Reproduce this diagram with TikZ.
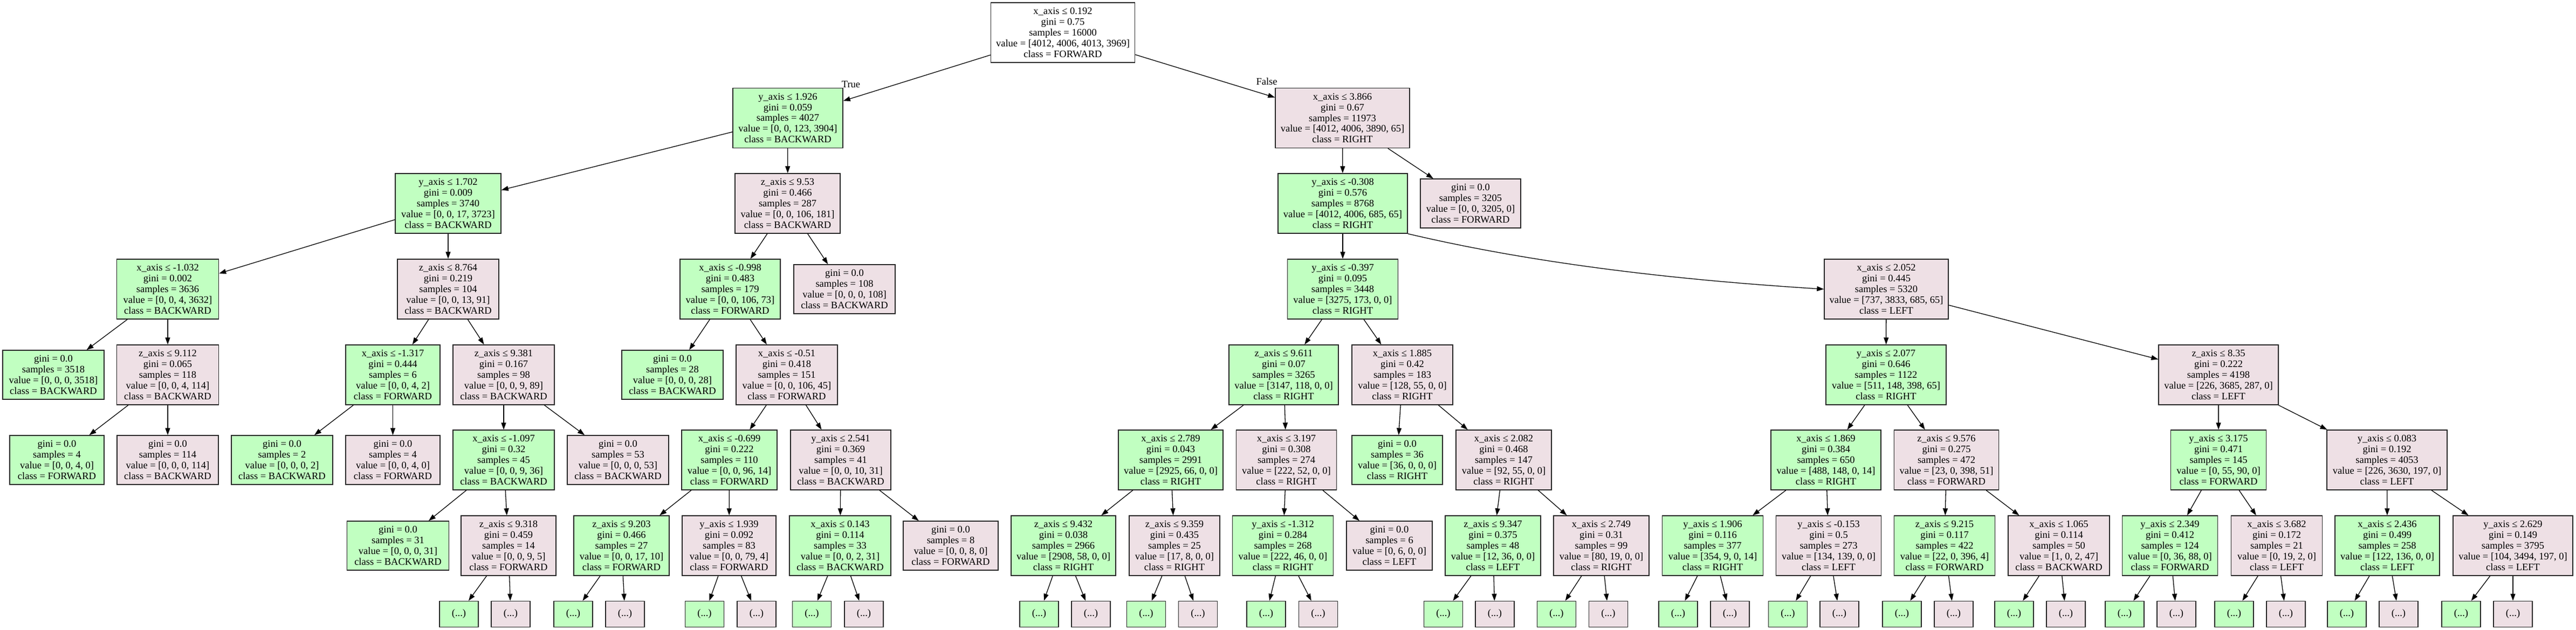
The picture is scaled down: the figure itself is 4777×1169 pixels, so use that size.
\documentclass[tikz,border=0pt]{standalone}
\usepackage{fontspec}
\setmainfont{Liberation Serif}
\usetikzlibrary{arrows.meta}
\definecolor{grn}{HTML}{C1FFC1}
\definecolor{pnk}{HTML}{EEE0E5}
\begin{document}
\begin{tikzpicture}[x=1pt,y=-1pt,
  box/.style={draw=black!85, line width=1.4pt, rectangle, align=center, inner xsep=2pt, inner ysep=0pt, font=\fontsize{18.5}{19.9}\selectfont},
  sg/.style={box, fill=grn, minimum height=111pt},
  sp/.style={box, fill=pnk, minimum height=111pt},
  sw/.style={box, fill=white, minimum height=111pt},
  lg/.style={box, fill=grn, minimum height=91pt},
  lp/.style={box, fill=pnk, minimum height=91pt},
  dg/.style={box, fill=grn, minimum width=72pt, minimum height=48pt},
  dp/.style={box, fill=pnk, minimum width=72pt, minimum height=48pt},
  edge/.style={line width=1.3pt, -{Triangle[length=13pt,width=9pt]}},
  elab/.style={font=\fontsize{18.5}{19.9}\selectfont, inner sep=0pt}]
\useasboundingbox (0,0) rectangle (4777,1169);
% level 0
\node[sw, minimum width=267pt] (root) at (1971,60.5) {x\_axis ≤ 0.192\\gini = 0.75\\samples = 16000\\value = [4012, 4006, 4013, 3969]\\class = FORWARD};
% level 1
\node[sg, minimum width=204pt] (n1) at (1461,219) {y\_axis ≤ 1.926\\gini = 0.059\\samples = 4027\\value = [0, 0, 123, 3904]\\class = BACKWARD};
\node[sp, minimum width=249pt] (n2) at (2489.5,219) {x\_axis ≤ 3.866\\gini = 0.67\\samples = 11973\\value = [4012, 4006, 3890, 65]\\class = RIGHT};
% level 2
\node[sg, minimum width=196pt] (n3) at (831,377.5) {y\_axis ≤ 1.702\\gini = 0.009\\samples = 3740\\value = [0, 0, 17, 3723]\\class = BACKWARD};
\node[sp, minimum width=195pt] (n4) at (1460.5,377.5) {z\_axis ≤ 9.53\\gini = 0.466\\samples = 287\\value = [0, 0, 106, 181]\\class = BACKWARD};
\node[sg, minimum width=240pt] (n5) at (2490,377.5) {y\_axis ≤ -0.308\\gini = 0.576\\samples = 8768\\value = [4012, 4006, 685, 65]\\class = RIGHT};
\node[lp, minimum width=186pt] (n6) at (2727,377.5) {gini = 0.0\\samples = 3205\\value = [0, 0, 3205, 0]\\class = FORWARD};
% level 3
\node[sg, minimum width=189pt] (n7) at (311,536.5) {x\_axis ≤ -1.032\\gini = 0.002\\samples = 3636\\value = [0, 0, 4, 3632]\\class = BACKWARD};
\node[sp, minimum width=188pt] (n8) at (831,536.5) {z\_axis ≤ 8.764\\gini = 0.219\\samples = 104\\value = [0, 0, 13, 91]\\class = BACKWARD};
\node[sg, minimum width=186pt] (n9) at (1354,536.5) {x\_axis ≤ -0.998\\gini = 0.483\\samples = 179\\value = [0, 0, 106, 73]\\class = FORWARD};
\node[lp, minimum width=188pt] (n10) at (1566,536.5) {gini = 0.0\\samples = 108\\value = [0, 0, 0, 108]\\class = BACKWARD};
\node[sg, minimum width=205pt] (n11) at (2490,536.5) {y\_axis ≤ -0.397\\gini = 0.095\\samples = 3448\\value = [3275, 173, 0, 0]\\class = RIGHT};
\node[sp, minimum width=230pt] (n12) at (3498,536.5) {x\_axis ≤ 2.052\\gini = 0.445\\samples = 5320\\value = [737, 3833, 685, 65]\\class = LEFT};
% level 4
\node[lg, minimum width=188pt] (n13) at (99,695.5) {gini = 0.0\\samples = 3518\\value = [0, 0, 0, 3518]\\class = BACKWARD};
\node[sp, minimum width=189pt] (n14) at (311,695.5) {z\_axis ≤ 9.112\\gini = 0.065\\samples = 118\\value = [0, 0, 4, 114]\\class = BACKWARD};
\node[sg, minimum width=175pt] (n15) at (728.5,695.5) {x\_axis ≤ -1.317\\gini = 0.444\\samples = 6\\value = [0, 0, 4, 2]\\class = FORWARD};
\node[sp, minimum width=188pt] (n16) at (934,695.5) {z\_axis ≤ 9.381\\gini = 0.167\\samples = 98\\value = [0, 0, 9, 89]\\class = BACKWARD};
\node[lg, minimum width=188pt] (n17) at (1247,695.5) {gini = 0.0\\samples = 28\\value = [0, 0, 0, 28]\\class = BACKWARD};
\node[sp, minimum width=188pt] (n18) at (1459,695.5) {x\_axis ≤ -0.51\\gini = 0.418\\samples = 151\\value = [0, 0, 106, 45]\\class = FORWARD};
\node[sg, minimum width=203pt] (n19) at (2380.5,695.5) {z\_axis ≤ 9.611\\gini = 0.07\\samples = 3265\\value = [3147, 118, 0, 0]\\class = RIGHT};
\node[sp, minimum width=187pt] (n20) at (2600.5,695.5) {x\_axis ≤ 1.885\\gini = 0.42\\samples = 183\\value = [128, 55, 0, 0]\\class = RIGHT};
\node[sg, minimum width=223pt] (n21) at (3497.5,695.5) {y\_axis ≤ 2.077\\gini = 0.646\\samples = 1122\\value = [511, 148, 398, 65]\\class = RIGHT};
\node[sp, minimum width=222pt] (n22) at (4114,695.5) {z\_axis ≤ 8.35\\gini = 0.222\\samples = 4198\\value = [226, 3685, 287, 0]\\class = LEFT};
% level 5
\node[lg, minimum width=175pt] (n23) at (105.5,853.5) {gini = 0.0\\samples = 4\\value = [0, 0, 4, 0]\\class = FORWARD};
\node[lp, minimum width=188pt] (n24) at (311,853.5) {gini = 0.0\\samples = 114\\value = [0, 0, 0, 114]\\class = BACKWARD};
\node[lg, minimum width=188pt] (n25) at (523,853.5) {gini = 0.0\\samples = 2\\value = [0, 0, 0, 2]\\class = BACKWARD};
\node[lp, minimum width=175pt] (n26) at (728.5,853.5) {gini = 0.0\\samples = 4\\value = [0, 0, 4, 0]\\class = FORWARD};
\node[sg, minimum width=188pt] (n27) at (934,853.5) {x\_axis ≤ -1.097\\gini = 0.32\\samples = 45\\value = [0, 0, 9, 36]\\class = BACKWARD};
\node[lp, minimum width=188pt] (n28) at (1146,853.5) {gini = 0.0\\samples = 53\\value = [0, 0, 0, 53]\\class = BACKWARD};
\node[sg, minimum width=177pt] (n29) at (1352.5,853.5) {x\_axis ≤ -0.699\\gini = 0.222\\samples = 110\\value = [0, 0, 96, 14]\\class = FORWARD};
\node[sp, minimum width=186pt] (n30) at (1559,853.5) {y\_axis ≤ 2.541\\gini = 0.369\\samples = 41\\value = [0, 0, 10, 31]\\class = BACKWARD};
\node[sg, minimum width=194pt] (n31) at (2171,853.5) {x\_axis ≤ 2.789\\gini = 0.043\\samples = 2991\\value = [2925, 66, 0, 0]\\class = RIGHT};
\node[sp, minimum width=186pt] (n32) at (2385.5,853.5) {x\_axis ≤ 3.197\\gini = 0.308\\samples = 274\\value = [222, 52, 0, 0]\\class = RIGHT};
\node[lg, minimum width=168pt] (n33) at (2591,853.5) {gini = 0.0\\samples = 36\\value = [36, 0, 0, 0]\\class = RIGHT};
\node[sp, minimum width=177pt] (n34) at (2788.5,853.5) {x\_axis ≤ 2.082\\gini = 0.468\\samples = 147\\value = [92, 55, 0, 0]\\class = RIGHT};
\node[sg, minimum width=204pt] (n35) at (3386,853.5) {x\_axis ≤ 1.869\\gini = 0.384\\samples = 650\\value = [488, 148, 0, 14]\\class = RIGHT};
\node[sp, minimum width=194pt] (n36) at (3609.5,853.5) {z\_axis ≤ 9.576\\gini = 0.275\\samples = 472\\value = [23, 0, 398, 51]\\class = FORWARD};
\node[sg, minimum width=177pt] (n37) at (4114,853.5) {y\_axis ≤ 3.175\\gini = 0.471\\samples = 145\\value = [0, 55, 90, 0]\\class = FORWARD};
\node[sp, minimum width=223pt] (n38) at (4426.5,853.5) {y\_axis ≤ 0.083\\gini = 0.192\\samples = 4053\\value = [226, 3630, 197, 0]\\class = LEFT};
% level 6
\node[lg, minimum width=189pt] (n39) at (738,1012.5) {gini = 0.0\\samples = 31\\value = [0, 0, 0, 31]\\class = BACKWARD};
\node[sp, minimum width=176pt] (n40) at (943,1012.5) {z\_axis ≤ 9.318\\gini = 0.459\\samples = 14\\value = [0, 0, 9, 5]\\class = FORWARD};
\node[sg, minimum width=177pt] (n41) at (1152.5,1012.5) {z\_axis ≤ 9.203\\gini = 0.466\\samples = 27\\value = [0, 0, 17, 10]\\class = FORWARD};
\node[sp, minimum width=174pt] (n42) at (1352,1012.5) {y\_axis ≤ 1.939\\gini = 0.092\\samples = 83\\value = [0, 0, 79, 4]\\class = FORWARD};
\node[sg, minimum width=188pt] (n43) at (1558,1012.5) {x\_axis ≤ 0.143\\gini = 0.114\\samples = 33\\value = [0, 0, 2, 31]\\class = BACKWARD};
\node[lp, minimum width=176pt] (n44) at (1763,1012.5) {gini = 0.0\\samples = 8\\value = [0, 0, 8, 0]\\class = FORWARD};
\node[sg, minimum width=194pt] (n45) at (1972,1012.5) {z\_axis ≤ 9.432\\gini = 0.038\\samples = 2966\\value = [2908, 58, 0, 0]\\class = RIGHT};
\node[sp, minimum width=168pt] (n46) at (2178,1012.5) {z\_axis ≤ 9.359\\gini = 0.435\\samples = 25\\value = [17, 8, 0, 0]\\class = RIGHT};
\node[sg, minimum width=187pt] (n47) at (2379,1012.5) {y\_axis ≤ -1.312\\gini = 0.284\\samples = 268\\value = [222, 46, 0, 0]\\class = RIGHT};
\node[lp, minimum width=159pt] (n48) at (2576.5,1012.5) {gini = 0.0\\samples = 6\\value = [0, 6, 0, 0]\\class = LEFT};
\node[sg, minimum width=177pt] (n49) at (2768.5,1012.5) {z\_axis ≤ 9.347\\gini = 0.375\\samples = 48\\value = [12, 36, 0, 0]\\class = LEFT};
\node[sp, minimum width=177pt] (n50) at (2969.5,1012.5) {x\_axis ≤ 2.749\\gini = 0.31\\samples = 99\\value = [80, 19, 0, 0]\\class = RIGHT};
\node[sg, minimum width=187pt] (n51) at (3176,1012.5) {y\_axis ≤ 1.906\\gini = 0.116\\samples = 377\\value = [354, 9, 0, 14]\\class = RIGHT};
\node[sp, minimum width=195pt] (n52) at (3391,1012.5) {y\_axis ≤ -0.153\\gini = 0.5\\samples = 273\\value = [134, 139, 0, 0]\\class = LEFT};
\node[sg, minimum width=187pt] (n53) at (3606,1012.5) {z\_axis ≤ 9.215\\gini = 0.117\\samples = 422\\value = [22, 0, 396, 4]\\class = FORWARD};
\node[sp, minimum width=188pt] (n54) at (3818,1012.5) {x\_axis ≤ 1.065\\gini = 0.114\\samples = 50\\value = [1, 0, 2, 47]\\class = BACKWARD};
\node[sg, minimum width=177pt] (n55) at (4024,1012.5) {y\_axis ≤ 2.349\\gini = 0.412\\samples = 124\\value = [0, 36, 88, 0]\\class = FORWARD};
\node[sp, minimum width=169pt] (n56) at (4222,1012.5) {x\_axis ≤ 3.682\\gini = 0.172\\samples = 21\\value = [0, 19, 2, 0]\\class = LEFT};
\node[sg, minimum width=194pt] (n57) at (4427,1012.5) {x\_axis ≤ 2.436\\gini = 0.499\\samples = 258\\value = [122, 136, 0, 0]\\class = LEFT};
\node[sp, minimum width=222pt] (n58) at (4660,1012.5) {y\_axis ≤ 2.629\\gini = 0.149\\samples = 3795\\value = [104, 3494, 197, 0]\\class = LEFT};
% level 7: truncated subtrees
\foreach \p/\xa/\xb in {n40/851/947, n41/1063/1159, n42/1306.5/1403, n43/1505.5/1602,
  n45/1927/2023, n46/2125.5/2221.5, n47/2348/2444.5, n49/2676.5/2772, n50/2886.5/2982.5,
  n51/3112/3208, n52/3315.5/3411, n53/3527/3623, n54/3735/3831, n55/3940/4036,
  n56/4143/4239, n57/4352/4448, n58/4564/4660}{
  \node[dg] (\p a) at (\xa,1139.5) {(...)};
  \node[dp] (\p b) at (\xb,1139.5) {(...)};
  \draw[edge] (\p) -- (\p a);
  \draw[edge] (\p) -- (\p b);
}
% edges
\foreach \a/\b in {root/n1, root/n2, n1/n3, n1/n4, n2/n5, n2/n6,
  n3/n7, n3/n8, n4/n9, n4/n10, n5/n11,
  n7/n13, n7/n14, n8/n15, n8/n16, n9/n17, n9/n18, n11/n19, n11/n20, n12/n21, n12/n22,
  n14/n23, n14/n24, n15/n25, n15/n26, n16/n27, n16/n28, n18/n29, n18/n30,
  n19/n31, n19/n32, n20/n33, n20/n34, n21/n35, n21/n36, n22/n37, n22/n38,
  n27/n39, n27/n40, n29/n41, n29/n42, n30/n43, n30/n44, n31/n45, n31/n46,
  n32/n47, n32/n48, n34/n49, n34/n50, n35/n51, n35/n52, n36/n53, n36/n54,
  n37/n55, n37/n56, n38/n57, n38/n58}{
  \draw[edge] (\a) -- (\b);
}
\draw[edge] (n5.south east) .. controls (2870,495) and (3150,522) .. (n12.west);
\node[elab] (lt) at (1578,157) {True};
\node[elab] (lf) at (2349,151) {False};
\end{tikzpicture}
\end{document}
